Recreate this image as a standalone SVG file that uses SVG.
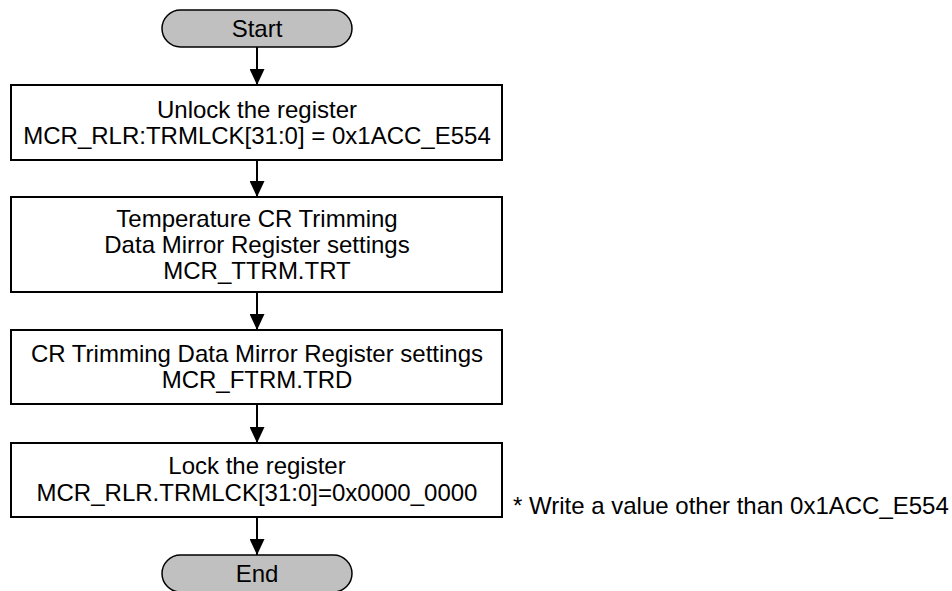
<svg xmlns="http://www.w3.org/2000/svg" width="952" height="591" viewBox="0 0 952 591">
  <defs>
    <marker id="arrow" markerWidth="16" markerHeight="15" refX="16" refY="7.5" orient="auto" markerUnits="userSpaceOnUse">
      <path d="M0,0 L16,7.5 L0,15 Z" fill="#000"/>
    </marker>
    <style>
      .box { fill: #fff; stroke: #000; stroke-width: 2; }
      .term { fill: #c0c0c0; stroke: #000; stroke-width: 1.5; }
      .lbl { font-family: "Liberation Sans", Arial, sans-serif; font-size: 24px; fill: #000; text-anchor: middle; }
      .note { font-family: "Liberation Sans", Arial, sans-serif; font-size: 24px; fill: #000; }
      .conn { stroke: #000; stroke-width: 2; fill: none; marker-end: url(#arrow); }
    </style>
  </defs>
  <rect width="952" height="591" fill="#fff"/>

  <g id="connectors">
    <line class="conn" x1="257" y1="47" x2="257" y2="85"/>
    <line class="conn" x1="257" y1="160" x2="257" y2="197"/>
    <line class="conn" x1="257" y1="292" x2="257" y2="330"/>
    <line class="conn" x1="257" y1="404" x2="257" y2="443"/>
    <line class="conn" x1="257" y1="517" x2="257" y2="555"/>
  </g>

  <g id="start">
    <rect class="term" x="162" y="10" width="190" height="37" rx="18.5" ry="18.5"/>
    <text class="lbl" x="257" y="37">Start</text>
  </g>

  <g id="unlock">
    <rect class="box" x="11" y="85" width="491" height="75"/>
    <text class="lbl" x="257" y="118">Unlock the register</text>
    <text class="lbl" x="257" y="144">MCR_RLR:TRMLCK[31:0] = 0x1ACC_E554</text>
  </g>

  <g id="temp-trim">
    <rect class="box" x="11" y="197" width="491" height="95"/>
    <text class="lbl" x="257" y="227">Temperature CR Trimming</text>
    <text class="lbl" x="257" y="253">Data Mirror Register settings</text>
    <text class="lbl" x="257" y="279">MCR_TTRM.TRT</text>
  </g>

  <g id="cr-trim">
    <rect class="box" x="11" y="330" width="491" height="74"/>
    <text class="lbl" x="257" y="362">CR Trimming Data Mirror Register settings</text>
    <text class="lbl" x="257" y="388">MCR_FTRM.TRD</text>
  </g>

  <g id="lock">
    <rect class="box" x="11" y="443" width="491" height="74"/>
    <text class="lbl" x="257" y="474">Lock the register</text>
    <text class="lbl" x="257" y="501">MCR_RLR.TRMLCK[31:0]=0x0000_0000</text>
  </g>

  <g id="lock-note">
    <text class="note" x="513" y="514">* Write a value other than 0x1ACC_E554</text>
  </g>

  <g id="end">
    <rect class="term" x="162" y="555" width="190" height="37" rx="18.5" ry="18.5"/>
    <text class="lbl" x="257" y="582">End</text>
  </g>
</svg>
